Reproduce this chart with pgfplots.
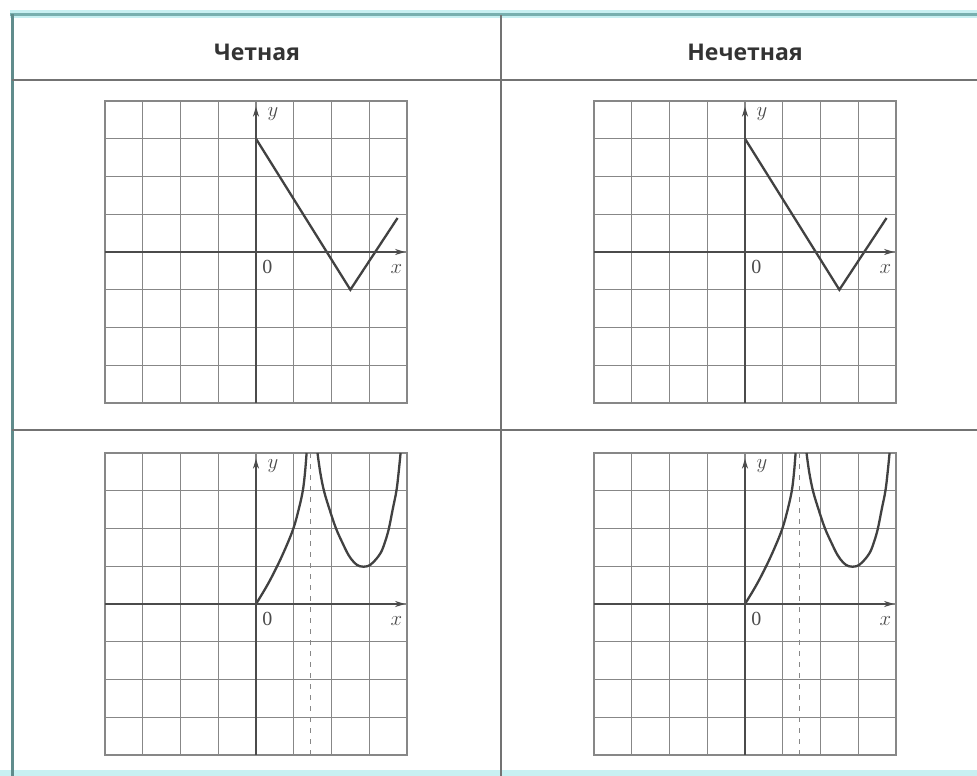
\documentclass[border=0pt]{standalone}
\usepackage{fontspec}
\usepackage{pgfplots}
\pgfplotsset{compat=1.18}
\usetikzlibrary{arrows.meta}
\setmainfont{Liberation Serif}
\newfontfamily\headfont{Open Sans}

\definecolor{gridgray}{RGB}{135,135,135}
\definecolor{axisgray}{RGB}{75,75,75}
\definecolor{curvegray}{RGB}{65,65,65}
\definecolor{frameteal}{RGB}{120,175,175}
\definecolor{framecyan}{RGB}{200,240,242}
\definecolor{rulegray}{RGB}{115,115,115}

\pgfplotsset{
  chk/.style={
    scale only axis, width=302pt, height=302pt,
    xmin=-4, xmax=4, ymin=-4, ymax=4,
    xtick={-4,...,4}, ytick={-4,...,4},
    xticklabels={}, yticklabels={},
    major tick length=0pt,
    grid=major,
    grid style={line width=1.2pt, color=gridgray},
    axis line style={line width=1.2pt, color=gridgray},
    clip=false,
    anchor=south west,
  },
  coordaxes/.style={
    execute at end axis={
      \draw[line width=1.7pt, color=axisgray, -{Stealth[length=10pt,width=6pt]}]
        (axis cs:-4,0) -- (axis cs:3.95,0);
      \draw[line width=1.7pt, color=axisgray, -{Stealth[length=10pt,width=6pt]}]
        (axis cs:0,-4) -- (axis cs:0,3.85);
      \node[font=\fontsize{21}{21}\selectfont, text=axisgray] at (axis cs:0.45,3.65) {$y$};
      \node[font=\fontsize{20}{20}\selectfont, text=axisgray] at (axis cs:0.3,-0.4) {0};
      \node[font=\fontsize{21}{21}\selectfont, text=axisgray] at (axis cs:3.72,-0.45) {$x$};
    }
  },
  vee/.style={line width=2.3pt, color=curvegray},
  cup/.style={line width=2.3pt, color=curvegray, smooth, tension=0.6},
}

\begin{document}
\begin{tikzpicture}
  \useasboundingbox (0pt,0pt) rectangle (977pt,776pt);

  % table frame
  \fill[framecyan] (0pt,0pt) rectangle (977pt,6pt);
  \fill[framecyan] (10pt,758pt) rectangle (977pt,766pt);
  \draw[line width=3pt, color=frameteal] (10pt,761pt) -- (977pt,761pt);
  \draw[line width=3pt, color=frameteal!80!black] (12pt,0pt) -- (12pt,762pt);
  \draw[line width=1.5pt, color=rulegray] (12pt,696pt) -- (977pt,696pt);
  \draw[line width=1.5pt, color=rulegray] (12pt,346pt) -- (977pt,346pt);
  \draw[line width=1.5pt, color=rulegray] (501pt,0pt) -- (501pt,761pt);

  % column headers
  \node[font=\headfont\bfseries\fontsize{23}{23}\selectfont, text=black!80] at (257pt,724pt) {Четная};
  \node[font=\headfont\bfseries\fontsize{23}{23}\selectfont, text=black!80] at (745pt,724pt) {Нечетная};

  % even column, broken line
  \begin{axis}[chk, coordaxes, at={(105pt,373pt)}]
    \addplot[vee] coordinates {(0,3) (2.5,-1) (3.75,0.9)};
  \end{axis}

  % odd column, broken line
  \begin{axis}[chk, coordaxes, at={(594pt,373pt)}]
    \addplot[vee] coordinates {(0,3) (2.5,-1) (3.75,0.9)};
  \end{axis}

  % even column, curve with vertical asymptote
  \begin{axis}[chk, coordaxes, at={(105pt,21pt)}]
    \addplot[line width=1.3pt, color=gridgray, dashed, dash pattern=on 5pt off 6pt]
      coordinates {(1.45,-4) (1.45,4)};
    \addplot[cup] coordinates {(0,0) (0.3,0.5) (0.56,1) (0.79,1.5) (0.99,2) (1.13,2.5) (1.24,3) (1.3,3.5) (1.34,4)};
    \addplot[cup] coordinates {(1.63,4) (1.7,3.5) (1.8,3) (1.95,2.5) (2.12,2) (2.3,1.6) (2.45,1.3) (2.6,1.1) (2.75,1.0) (2.95,1.0) (3.1,1.1) (3.3,1.35) (3.42,1.65) (3.52,2) (3.62,2.5) (3.72,3) (3.78,3.5) (3.83,4)};
  \end{axis}

  % odd column, curve with vertical asymptote
  \begin{axis}[chk, coordaxes, at={(594pt,21pt)}]
    \addplot[line width=1.3pt, color=gridgray, dashed, dash pattern=on 5pt off 6pt]
      coordinates {(1.45,-4) (1.45,4)};
    \addplot[cup] coordinates {(0,0) (0.3,0.5) (0.56,1) (0.79,1.5) (0.99,2) (1.13,2.5) (1.24,3) (1.3,3.5) (1.34,4)};
    \addplot[cup] coordinates {(1.63,4) (1.7,3.5) (1.8,3) (1.95,2.5) (2.12,2) (2.3,1.6) (2.45,1.3) (2.6,1.1) (2.75,1.0) (2.95,1.0) (3.1,1.1) (3.3,1.35) (3.42,1.65) (3.52,2) (3.62,2.5) (3.72,3) (3.78,3.5) (3.83,4)};
  \end{axis}
\end{tikzpicture}
\end{document}
